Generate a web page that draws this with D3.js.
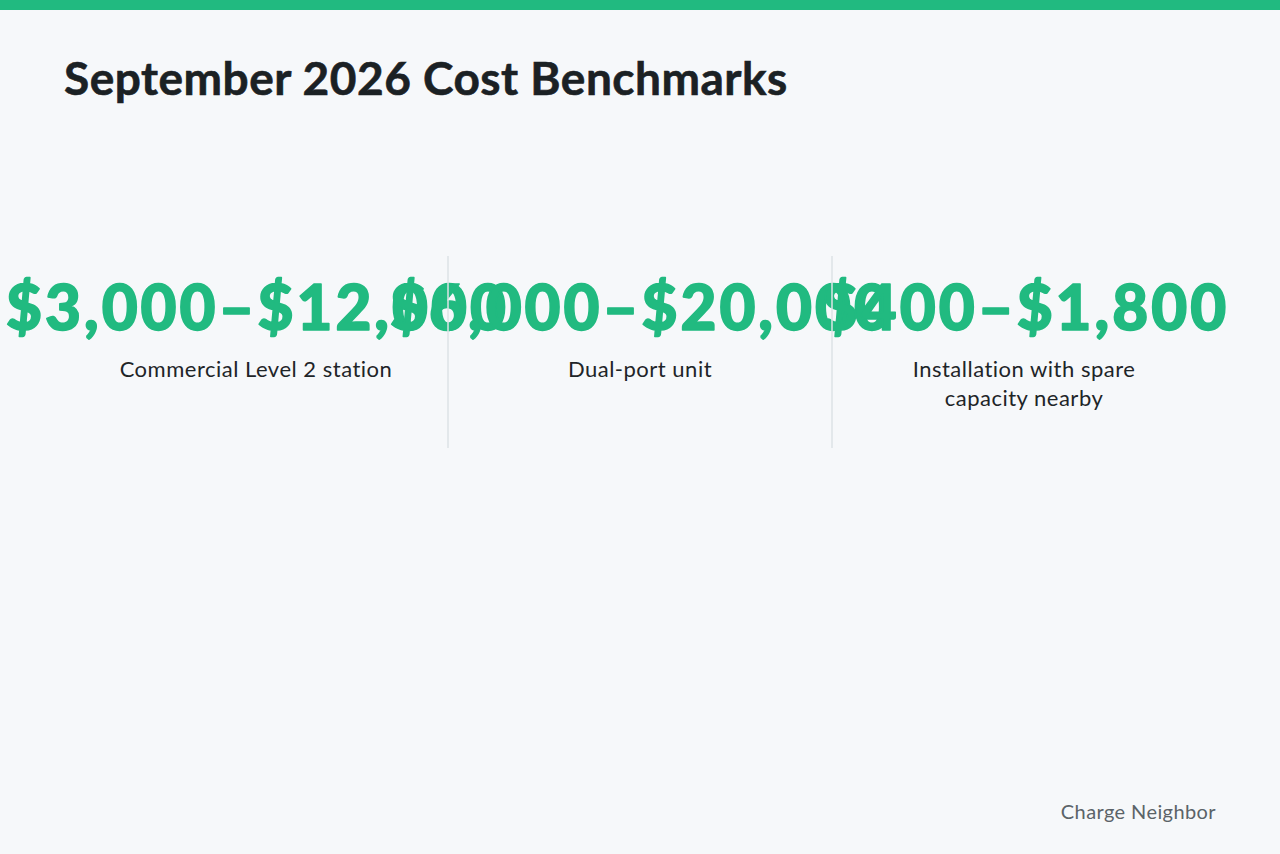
<!DOCTYPE html>
<html>
<head>
<meta charset="utf-8">
<script src="https://cdn.jsdelivr.net/npm/d3@7"></script>
<style>
  html, body { margin: 0; padding: 0; background: #f6f8fa; }
  svg { display: block; }
</style>
</head>
<body>
<svg id="chart" width="1280" height="854"></svg>
<script>
const title = "September 2026 Cost Benchmarks";
const categories = ["Commercial Level 2 station", "Dual-port unit", "Installation with spare capacity nearby"];
const labelLines = [["Commercial Level 2 station"], ["Dual-port unit"], ["Installation with spare", "capacity nearby"]];
const lowValues = [3000, 6000, 400];
const highValues = [12000, 20000, 1800];
const source = "Charge Neighbor";

const W = 1280, H = 854;
const svg = d3.select("#chart");
const green = "#21ba80";

svg.append("rect").attr("x", 0).attr("y", 0).attr("width", W).attr("height", H).attr("fill", "#f6f8fa");
svg.append("rect").attr("x", 0).attr("y", 0).attr("width", W).attr("height", 10).attr("fill", green);

svg.append("text").attr("x", 64).attr("y", 95)
  .attr("font-family", "Lato, 'Noto Sans', sans-serif").attr("font-weight", 700)
  .attr("font-size", 46).attr("letter-spacing", 0.5).attr("fill", "#1b2124")
  .attr("stroke", "#1b2124").attr("stroke-width", 0.6).text(title);

const x = d3.scaleBand().domain(categories).range([64, 1216]).paddingInner(0).paddingOuter(0);
const fmt = d3.format("$,");

const cols = svg.selectAll("g.col").data(categories).join("g").attr("class", "col");

// dividers
svg.selectAll("line.div").data(categories.slice(1)).join("line")
  .attr("class", "div")
  .attr("x1", d => x(d)).attr("x2", d => x(d))
  .attr("y1", 256).attr("y2", 448)
  .attr("stroke", "#dde3e6").attr("stroke-width", 1.5);

cols.append("text")
  .attr("x", d => x(d) + x.bandwidth() / 2 + 1.5)
  .attr("y", 330)
  .attr("text-anchor", "middle")
  .attr("font-family", "Lato, sans-serif").attr("font-weight", 900)
  .attr("font-size", 62).attr("letter-spacing", 3).attr("fill", green)
  .attr("stroke", green).attr("stroke-width", 1.6).attr("stroke-linejoin", "round")
  .text((d, i) => fmt(lowValues[i]) + "\u2013" + fmt(highValues[i]));

cols.each(function(d, i) {
  const g = d3.select(this);
  const t = g.append("text")
    .attr("text-anchor", "middle")
    .attr("font-family", "Lato, 'Noto Sans', sans-serif").attr("font-weight", 400)
    .attr("font-size", 22).attr("letter-spacing", 0.5).attr("fill", "#1e2528");
  labelLines[i].forEach((line, j) => {
    t.append("tspan").attr("x", x(d) + x.bandwidth() / 2).attr("y", 377 + j * 29).text(line);
  });
});

svg.append("text").attr("x", 1216).attr("y", 819).attr("text-anchor", "end")
  .attr("font-family", "Lato, 'Noto Sans', sans-serif").attr("font-size", 20)
  .attr("letter-spacing", 0.4).attr("fill", "#5b6368").text(source);
</script>
</body>
</html>
